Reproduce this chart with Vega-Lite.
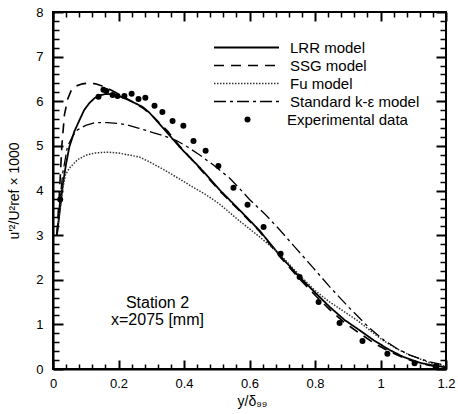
{
  "$schema": "https://vega.github.io/schema/vega-lite/v6.json",
  "autosize": {"type": "none"},
  "width": 393,
  "height": 357,
  "padding": {"left": 53, "top": 12, "right": 12, "bottom": 45},
  "background": "white",
  "config": {
    "view": {"stroke": "black", "strokeWidth": 2, "fill": null},
    "font": "Liberation Sans",
    "axis": {"zindex": 2, "ticks": false, "domainColor": "black", "domainWidth": 2, "labelColor": "black", "titleColor": "black", "labelFont": "Liberation Sans", "titleFont": "Liberation Sans", "labelFontSize": 13, "titleFontSize": 14, "titleFontWeight": "normal", "gridColor": "black", "gridOpacity": 1},
    "legend": {"title": null, "orient": "none", "padding": 0, "labelFontSize": 15, "labelFont": "Liberation Sans", "labelColor": "black"}
  },
  "datasets": {
    "curves": [
      {"m":"LRR model","x":0.012,"y":3.0},{"m":"LRR model","x":0.02,"y":3.5},{"m":"LRR model","x":0.029,"y":4.08},{"m":"LRR model","x":0.04,"y":4.6},{"m":"LRR model","x":0.05,"y":4.98},{"m":"LRR model","x":0.065,"y":5.32},{"m":"LRR model","x":0.081,"y":5.58},{"m":"LRR model","x":0.095,"y":5.8},{"m":"LRR model","x":0.111,"y":5.96},{"m":"LRR model","x":0.127,"y":6.07},{"m":"LRR model","x":0.142,"y":6.13},{"m":"LRR model","x":0.16,"y":6.16},{"m":"LRR model","x":0.18,"y":6.16},{"m":"LRR model","x":0.2,"y":6.12},{"m":"LRR model","x":0.224,"y":6.05},{"m":"LRR model","x":0.25,"y":5.96},{"m":"LRR model","x":0.274,"y":5.87},{"m":"LRR model","x":0.295,"y":5.74},{"m":"LRR model","x":0.33,"y":5.45},{"m":"LRR model","x":0.36,"y":5.2},{"m":"LRR model","x":0.386,"y":4.98},{"m":"LRR model","x":0.45,"y":4.5},{"m":"LRR model","x":0.508,"y":4.02},{"m":"LRR model","x":0.57,"y":3.56},{"m":"LRR model","x":0.631,"y":3.1},{"m":"LRR model","x":0.692,"y":2.55},{"m":"LRR model","x":0.753,"y":2.06},{"m":"LRR model","x":0.805,"y":1.68},{"m":"LRR model","x":0.845,"y":1.39},{"m":"LRR model","x":0.89,"y":1.1},{"m":"LRR model","x":0.936,"y":0.87},{"m":"LRR model","x":0.98,"y":0.64},{"m":"LRR model","x":1.027,"y":0.43},{"m":"LRR model","x":1.07,"y":0.27},{"m":"LRR model","x":1.12,"y":0.14},{"m":"LRR model","x":1.16,"y":0.08},{"m":"LRR model","x":1.2,"y":0.04},
      {"m":"SSG model","x":0.012,"y":3.0},{"m":"SSG model","x":0.02,"y":4.0},{"m":"SSG model","x":0.027,"y":5.0},{"m":"SSG model","x":0.035,"y":5.7},{"m":"SSG model","x":0.045,"y":6.05},{"m":"SSG model","x":0.056,"y":6.25},{"m":"SSG model","x":0.07,"y":6.34},{"m":"SSG model","x":0.09,"y":6.39},{"m":"SSG model","x":0.11,"y":6.41},{"m":"SSG model","x":0.13,"y":6.39},{"m":"SSG model","x":0.15,"y":6.34},{"m":"SSG model","x":0.172,"y":6.27},{"m":"SSG model","x":0.19,"y":6.2},{"m":"SSG model","x":0.21,"y":6.12},{"m":"SSG model","x":0.24,"y":6.0},{"m":"SSG model","x":0.274,"y":5.85},{"m":"SSG model","x":0.3,"y":5.7},{"m":"SSG model","x":0.35,"y":5.33},{"m":"SSG model","x":0.386,"y":5.0},{"m":"SSG model","x":0.45,"y":4.48},{"m":"SSG model","x":0.508,"y":4.0},{"m":"SSG model","x":0.57,"y":3.54},{"m":"SSG model","x":0.631,"y":3.08},{"m":"SSG model","x":0.692,"y":2.52},{"m":"SSG model","x":0.753,"y":2.02},{"m":"SSG model","x":0.805,"y":1.62},{"m":"SSG model","x":0.845,"y":1.33},{"m":"SSG model","x":0.89,"y":1.04},{"m":"SSG model","x":0.936,"y":0.8},{"m":"SSG model","x":0.98,"y":0.58},{"m":"SSG model","x":1.027,"y":0.39},{"m":"SSG model","x":1.065,"y":0.27},{"m":"SSG model","x":1.1,"y":0.17},{"m":"SSG model","x":1.15,"y":0.08},{"m":"SSG model","x":1.2,"y":0.04},
      {"m":"Fu model","x":0.012,"y":3.0},{"m":"Fu model","x":0.02,"y":3.5},{"m":"Fu model","x":0.03,"y":4.05},{"m":"Fu model","x":0.038,"y":4.35},{"m":"Fu model","x":0.05,"y":4.5},{"m":"Fu model","x":0.075,"y":4.69},{"m":"Fu model","x":0.1,"y":4.79},{"m":"Fu model","x":0.127,"y":4.84},{"m":"Fu model","x":0.166,"y":4.86},{"m":"Fu model","x":0.2,"y":4.84},{"m":"Fu model","x":0.264,"y":4.75},{"m":"Fu model","x":0.295,"y":4.64},{"m":"Fu model","x":0.33,"y":4.5},{"m":"Fu model","x":0.365,"y":4.35},{"m":"Fu model","x":0.386,"y":4.26},{"m":"Fu model","x":0.426,"y":4.08},{"m":"Fu model","x":0.468,"y":3.9},{"m":"Fu model","x":0.508,"y":3.7},{"m":"Fu model","x":0.569,"y":3.32},{"m":"Fu model","x":0.631,"y":2.96},{"m":"Fu model","x":0.692,"y":2.58},{"m":"Fu model","x":0.75,"y":2.12},{"m":"Fu model","x":0.8,"y":1.76},{"m":"Fu model","x":0.845,"y":1.5},{"m":"Fu model","x":0.927,"y":1.1},{"m":"Fu model","x":1.006,"y":0.65},{"m":"Fu model","x":1.05,"y":0.45},{"m":"Fu model","x":1.09,"y":0.31},{"m":"Fu model","x":1.15,"y":0.14},{"m":"Fu model","x":1.2,"y":0.06},
      {"m":"Standard k-ε model","x":0.012,"y":3.0},{"m":"Standard k-ε model","x":0.02,"y":3.7},{"m":"Standard k-ε model","x":0.03,"y":4.4},{"m":"Standard k-ε model","x":0.044,"y":4.98},{"m":"Standard k-ε model","x":0.06,"y":5.22},{"m":"Standard k-ε model","x":0.075,"y":5.36},{"m":"Standard k-ε model","x":0.1,"y":5.46},{"m":"Standard k-ε model","x":0.127,"y":5.52},{"m":"Standard k-ε model","x":0.166,"y":5.52},{"m":"Standard k-ε model","x":0.2,"y":5.5},{"m":"Standard k-ε model","x":0.227,"y":5.47},{"m":"Standard k-ε model","x":0.26,"y":5.4},{"m":"Standard k-ε model","x":0.3,"y":5.31},{"m":"Standard k-ε model","x":0.34,"y":5.22},{"m":"Standard k-ε model","x":0.377,"y":5.12},{"m":"Standard k-ε model","x":0.41,"y":4.98},{"m":"Standard k-ε model","x":0.447,"y":4.8},{"m":"Standard k-ε model","x":0.49,"y":4.57},{"m":"Standard k-ε model","x":0.539,"y":4.28},{"m":"Standard k-ε model","x":0.569,"y":4.05},{"m":"Standard k-ε model","x":0.6,"y":3.8},{"m":"Standard k-ε model","x":0.65,"y":3.45},{"m":"Standard k-ε model","x":0.692,"y":3.12},{"m":"Standard k-ε model","x":0.74,"y":2.72},{"m":"Standard k-ε model","x":0.792,"y":2.29},{"m":"Standard k-ε model","x":0.845,"y":1.84},{"m":"Standard k-ε model","x":0.905,"y":1.37},{"m":"Standard k-ε model","x":0.966,"y":0.92},{"m":"Standard k-ε model","x":1.01,"y":0.65},{"m":"Standard k-ε model","x":1.05,"y":0.46},{"m":"Standard k-ε model","x":1.09,"y":0.31},{"m":"Standard k-ε model","x":1.15,"y":0.16},{"m":"Standard k-ε model","x":1.2,"y":0.08}
    ],
    "exp": [
      {"k":"Experimental data","x":0.022,"y":3.8},{"k":"Experimental data","x":0.139,"y":6.1},{"k":"Experimental data","x":0.154,"y":6.26},{"k":"Experimental data","x":0.163,"y":6.23},{"k":"Experimental data","x":0.182,"y":6.14},{"k":"Experimental data","x":0.197,"y":6.12},{"k":"Experimental data","x":0.218,"y":6.12},{"k":"Experimental data","x":0.24,"y":6.17},{"k":"Experimental data","x":0.261,"y":6.05},{"k":"Experimental data","x":0.282,"y":6.08},{"k":"Experimental data","x":0.31,"y":5.9},{"k":"Experimental data","x":0.334,"y":5.76},{"k":"Experimental data","x":0.365,"y":5.56},{"k":"Experimental data","x":0.398,"y":5.45},{"k":"Experimental data","x":0.429,"y":5.11},{"k":"Experimental data","x":0.466,"y":4.89},{"k":"Experimental data","x":0.505,"y":4.55},{"k":"Experimental data","x":0.551,"y":4.06},{"k":"Experimental data","x":0.594,"y":3.68},{"k":"Experimental data","x":0.643,"y":3.18},{"k":"Experimental data","x":0.695,"y":2.58},{"k":"Experimental data","x":0.753,"y":2.06},{"k":"Experimental data","x":0.811,"y":1.5},{"k":"Experimental data","x":0.875,"y":1.03},{"k":"Experimental data","x":0.945,"y":0.63},{"k":"Experimental data","x":1.021,"y":0.34},{"k":"Experimental data","x":1.104,"y":0.13},{"k":"Experimental data","x":1.171,"y":0.07}
    ]
  },
  "layer": [
    {
      "data": {"name": "curves"},
      "mark": {"type": "line", "clip": true},
      "encoding": {
        "x": {"field": "x", "type": "quantitative", "scale": {"domain": [0, 1.2], "nice": false, "zero": false},
          "axis": {"orient": "bottom", "zindex": 2, "title": "y/δ₉₉", "titleX": 199, "titleY": 36, "titleBaseline": "alphabetic", "values": [0, 0.2, 0.4, 0.6, 0.8, 1, 1.2],
            "format": "~g", "labelFlush": false, "labelOverlap": false, "labelPadding": 8,
            "grid": true, "gridDash": [9, 339, 9], "gridWidth": 2, "gridColor": "black"}},
        "y": {"field": "y", "type": "quantitative", "scale": {"domain": [0, 8], "nice": false},
          "axis": {"orient": "left", "zindex": 2, "title": "u'²/U²ref × 1000", "titleX": -35, "titleBaseline": "alphabetic", "values": [0, 1, 2, 3, 4, 5, 6, 7, 8],
            "format": "~g", "labelFlush": false, "labelOverlap": false, "labelPadding": 10,
            "grid": true, "gridDash": [10, 373, 10], "gridWidth": 2, "gridColor": "black"}},
        "strokeDash": {"field": "m", "type": "nominal", "scale": {"domain": ["LRR model", "SSG model", "Fu model", "Standard k-ε model"], "range": [[1, 0], [10, 7], [1.5, 1.5], [12, 4, 3, 4]]},
          "legend": {"legendX": 160, "legendY": 28, "symbolType": "stroke", "symbolSize": 4225, "clipHeight": 15, "rowPadding": 2, "labelOffset": 10}},
        "strokeWidth": {"field": "m", "type": "nominal", "scale": {"domain": ["LRR model", "SSG model", "Fu model", "Standard k-ε model"], "range": [1.8, 1.3, 1, 1.3]},
          "legend": {"legendX": 160, "legendY": 28, "symbolType": "stroke", "symbolSize": 4225, "clipHeight": 15, "rowPadding": 2, "labelOffset": 10}},
        "color": {"field": "m", "type": "nominal", "scale": {"domain": ["LRR model", "SSG model", "Fu model", "Standard k-ε model"], "range": ["black", "black", "#333333", "black"]},
          "legend": {"legendX": 160, "legendY": 28, "symbolType": "stroke", "symbolSize": 4225, "clipHeight": 15, "rowPadding": 2, "labelOffset": 10}}
      }
    },
    {
      "data": {"name": "exp"},
      "mark": {"type": "point", "filled": true, "color": "black", "opacity": 1, "size": 36},
      "encoding": {
        "x": {"field": "x", "type": "quantitative",
          "axis": {"orient": "top", "zindex": 2, "title": null, "labels": false, "domain": false, "values": [0.04,0.08,0.12,0.16,0.24,0.28,0.32,0.36,0.44,0.48,0.52,0.56,0.64,0.68,0.72,0.76,0.84,0.88,0.92,0.96,1.04,1.08,1.12,1.16],
            "grid": true, "gridDash": [5, 347, 5], "gridWidth": 1.5, "gridColor": "black"}},
        "y": {"field": "y", "type": "quantitative",
          "axis": {"orient": "right", "zindex": 2, "title": null, "labels": false, "domain": false, "values": [0.2,0.4,0.6,0.8,1.2,1.4,1.6,1.8,2.2,2.4,2.6,2.8,3.2,3.4,3.6,3.8,4.2,4.4,4.6,4.8,5.2,5.4,5.6,5.8,6.2,6.4,6.6,6.8,7.2,7.4,7.6,7.8],
            "grid": true, "gridDash": [6, 381, 6], "gridWidth": 1.5, "gridColor": "black"}},
        "shape": {"field": "k", "type": "nominal", "scale": {"range": ["circle"]},
          "legend": {"legendX": 187, "legendY": 100, "symbolSize": 36, "symbolFillColor": "black", "symbolStrokeColor": "black", "clipHeight": 15, "symbolOffset": 0, "labelOffset": 32}}
      }
    },
    {
      "data": {"values": [{}]},
      "mark": {"type": "text", "text": ["Station 2", "x=2075 [mm]"], "font": "Liberation Sans", "fontSize": 16, "lineHeight": 17, "align": "center", "baseline": "middle", "color": "black"},
      "encoding": {
        "x": {"datum": 0.319, "type": "quantitative", "axis": null},
        "y": {"datum": 1.48, "type": "quantitative", "axis": null}
      }
    }
  ],
  "resolve": {"axis": {"x": "independent", "y": "independent"}}
}
